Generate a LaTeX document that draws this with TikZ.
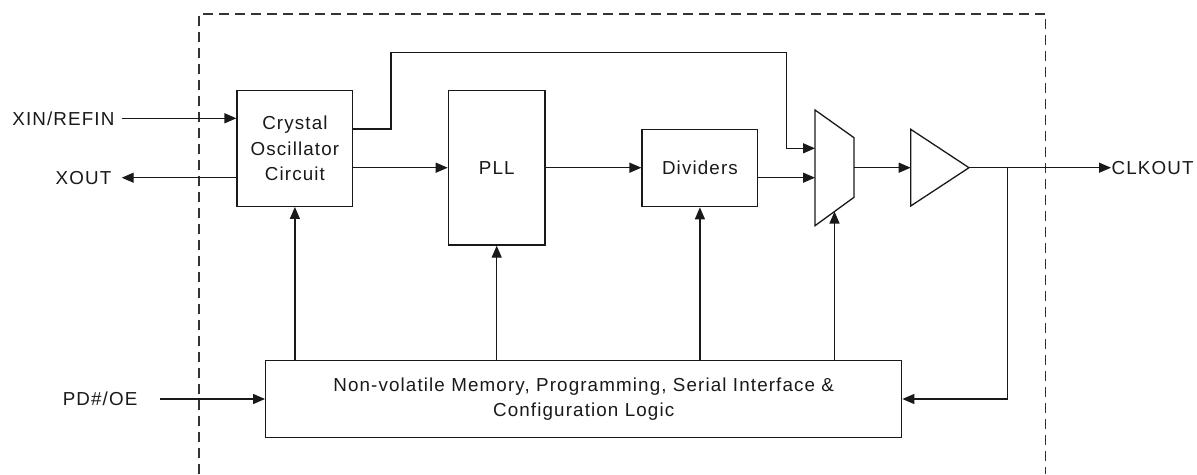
\documentclass[tikz,border=0pt]{standalone}
\usepackage{fontspec}
\setmainfont{Liberation Sans}[LetterSpace=6]
\usetikzlibrary{arrows.meta,calc}
\begin{document}
\begin{tikzpicture}[x=1pt,y=-1pt, line width=1.3pt, color=black!90,
  box/.style={draw, inner sep=0pt, align=center, font=\fontsize{18.8}{25.5}\selectfont},
  arr/.style={-{Triangle[length=12pt,width=10pt]}},
  lbl/.style={inner sep=0pt, font=\fontsize{18.8}{25.5}\selectfont}]
\useasboundingbox (0,0) rectangle (1197,474);
% dashed chip outline
\draw[dash pattern=on 10pt off 6pt, line width=1.3pt, black!80] (199,474) -- (199,14) -- (1045.7,14) -- (1045.7,474);
% blocks
\node[box, minimum width=115.7pt, minimum height=115.6pt] (xtal) at (294.9,148.5) {Crystal\\Oscillator\\Circuit};
\node[box, minimum width=96.7pt, minimum height=154.3pt] (pll) at (496.7,167.85) {PLL};
\node[box, minimum width=115.7pt, minimum height=77.4pt] (div) at (699.9,168) {Dividers};
\node[box, minimum width=636pt, minimum height=76.6pt] (cfg) at (583.7,399) {Non-volatile Memory, Programming, Serial Interface \&\\Configuration Logic};
% mux
\coordinate (m1) at (815,110);
\coordinate (m2) at (854,137.7);
\coordinate (m3) at (854,197.3);
\coordinate (m4) at (815,225.7);
\draw (m1) -- (m2) -- (m3) -- (m4) -- cycle;
\coordinate (mIn1) at (815,148.3);
\coordinate (mIn2) at (815,177.7);
\coordinate (mOut) at (854,167.7);
\coordinate (mCtl) at ($(m4)!0.5!(m3)$);
% buffer
\coordinate (b1) at (910.7,129.3);
\coordinate (bufOut) at (969,167.7);
\coordinate (b3) at (910.7,206);
\draw (b1) -- (bufOut) -- (b3) -- cycle;
\coordinate (bufIn) at (910.7,167.7);
% labels
\node[lbl, anchor=east] (xinT) at (115,118.3) {XIN/REFIN};
\node[lbl, anchor=east] (xoutT) at (112,177.7) {XOUT};
\node[lbl, anchor=east] (pdT) at (138,399) {PD\#/OE};
\node[lbl, anchor=west] (clkT) at (1111,167.7) {CLKOUT};
% connector end points
\coordinate (xinL) at (121.7,118.3);
\coordinate (xoutL) at (121.7,177.7);
\coordinate (pdL) at (160,399);
\coordinate (clk) at (1111,167.7);
\coordinate (br) at (1007.3,167.7);
\coordinate (j1) at (391,129);
\coordinate (j2) at (391,52.3);
\coordinate (j3) at (786.7,52.3);
\coordinate (j4) at (786.7,148.3);
% connectors
\draw[arr] (xinL) -- (xinL -| xtal.west);
\draw[arr] (xoutL -| xtal.west) -- (xoutL);
\draw[arr] (j1 -| xtal.east) -- (j1) -- (j2) -- (j3) -- (j4) -- (mIn1);
\draw[arr] (xtal.east |- mOut) -- (pll.west |- mOut);
\draw[arr] (pll.east |- mOut) -- (div.west |- mOut);
\draw[arr] (div.east |- mIn2) -- (mIn2);
\draw[arr] (mOut) -- (bufIn);
\draw[arr] (bufOut) -- (clk);
\draw[arr] (br) |- (cfg.east);
\draw[arr] (pdL) -- (cfg.west);
\draw[arr] (cfg.north -| xtal.south) -- (xtal.south);
\draw[arr] (cfg.north -| pll.south) -- (pll.south);
\draw[arr] (cfg.north -| div.south) -- (div.south);
\draw[arr] (cfg.north -| mCtl) -- (mCtl);
\end{tikzpicture}
\end{document}
